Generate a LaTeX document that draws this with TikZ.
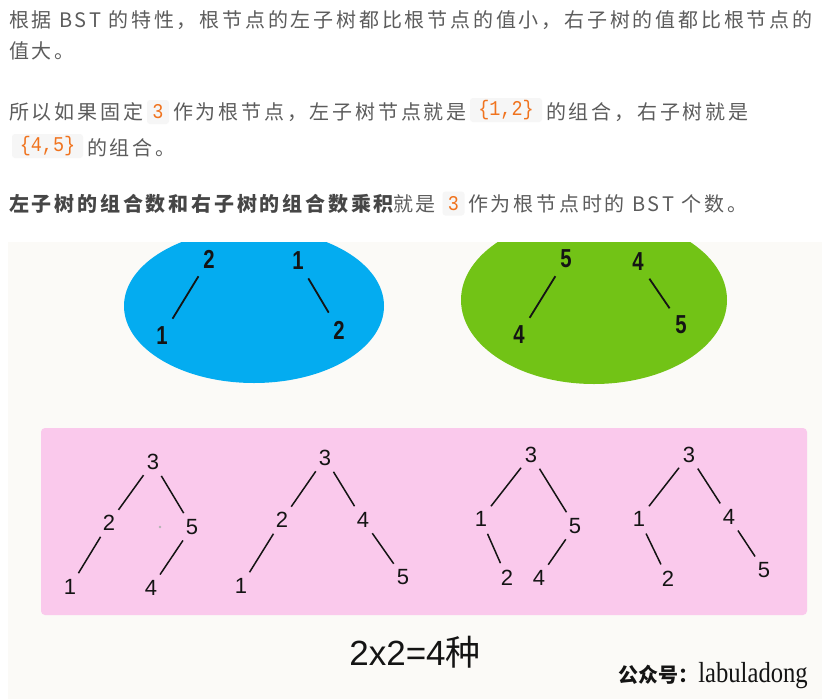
\documentclass[tikz,border=0pt]{standalone}
\usepackage{fontspec}
\usepackage{graphicx}
\newfontfamily\cjk[LetterSpace=14]{Noto Sans CJK SC}
\newfontfamily\cjkplain{Noto Sans CJK SC}
\newfontfamily\codefont{Liberation Mono}
\newfontfamily\digitfont{Liberation Sans}
\newfontfamily\serifwm{Liberation Serif}
\definecolor{bodygray}{RGB}{92,92,92}
\definecolor{boldgray}{RGB}{70,70,70}
\definecolor{codeorange}{RGB}{240,115,30}
\definecolor{codebg}{RGB}{246,246,246}
\definecolor{paper}{RGB}{251,250,247}
\definecolor{blueE}{RGB}{4,172,240}
\definecolor{greenE}{RGB}{114,195,22}
\definecolor{pinkR}{RGB}{250,201,236}
\definecolor{ink}{RGB}{20,20,20}
\newcommand{\narrowdigit}[1]{\scalebox{0.78}[1]{#1}}
\newcommand{\codetext}[1]{\scalebox{0.88}[1]{#1}}
\tikzset{
  txt/.style={anchor=base west, inner sep=0pt, text=bodygray,
    font=\cjk\fontsize{20}{20}\selectfont},
  boldtxt/.style={txt, text=boldgray, font=\cjk\bfseries\fontsize{20}{20}\selectfont},
  codebox/.style={fill=codebg, rounded corners=3pt, inner sep=0pt,
    minimum height=24pt, text=codeorange,
    font=\codefont\fontsize{21}{21}\selectfont},
  pd/.style={circle, inner sep=0pt, minimum size=32pt, text=ink,
    font=\digitfont\fontsize{22}{22}\selectfont},
  bd/.style={circle, inner sep=0pt, minimum size=40pt, text=ink,
    font=\digitfont\bfseries\fontsize{26}{26}\selectfont},
  pe/.style={draw=ink, line width=1.5pt},
  be/.style={draw=ink, line width=1.8pt},
}
\begin{document}
\begin{tikzpicture}[x=1pt, y=-1pt]
\useasboundingbox (0,0) rectangle (822,699);
\fill[white] (0,0) rectangle (822,699);

% ---------- text above ----------
\node[txt] (l1) at (9,27.5) {根据 BST 的特性，根节点的左子树都比根节点的值小，右子树的值都比根节点的};
\node[txt] (l2) at (9,58.5) {值大。};

\node[txt] (l3a) at (9,119) {所以如果固定};
\node[codebox, minimum width=22pt] (c3a) at (158,112) {\codetext{3}};
\node[txt] (l3b) at (173,119) {作为根节点，左子树节点就是};
\node[codebox, minimum width=72pt] (c12) at (506,110) {\codetext{\{1,2\}}};
\node[txt] (l3c) at (546,119) {的组合，右子树就是};

\node[codebox, minimum width=71pt] (c45) at (47.5,146) {\codetext{\{4,5\}}};
\node[txt] (l4) at (87,155) {的组合。};

\node[boldtxt] (l5a) at (9,211) {左子树的组合数和右子树的组合数乘积};
\node[txt] (l5b) at (393,211) {就是};
\node[codebox, minimum width=22pt] (c3b) at (453.5,203.5) {\codetext{3}};
\node[txt] (l5c) at (468,211) {作为根节点时的 BST 个数。};

% ---------- picture ----------
\fill[paper] (8,242) rectangle (822,699);
\begin{scope}
  \clip (8,242) rectangle (822,699);
  \fill[blueE] (254,306) ellipse [x radius=130, y radius=77];
  \fill[greenE] (594,300) ellipse [x radius=133, y radius=84];
\end{scope}

% blue trees
\node[bd] (b1r) at (209,259) {\narrowdigit{2}};
\node[bd] (b1c) at (162,336) {\narrowdigit{1}};
\node[bd] (b2r) at (298,261) {\narrowdigit{1}};
\node[bd] (b2c) at (339,330) {\narrowdigit{2}};
\draw[be] (b1r) -- (b1c);
\draw[be] (b2r) -- (b2c);

% green trees
\node[bd] (g1r) at (566,259) {\narrowdigit{5}};
\node[bd] (g1c) at (519,335) {\narrowdigit{4}};
\node[bd] (g2r) at (638,262) {\narrowdigit{4}};
\node[bd] (g2c) at (681,325) {\narrowdigit{5}};
\draw[be] (g1r) -- (g1c);
\draw[be] (g2r) -- (g2c);

% pink panel
\fill[pinkR, rounded corners=4pt] (41,428) rectangle (807,615);
\fill[gray!60] (160,527) circle [radius=1.3];

% tree A
\node[pd] (a3) at (153,462) {3};
\node[pd] (a2) at (109,523) {2};
\node[pd] (a5) at (192,527) {5};
\node[pd] (a1) at (70,587) {1};
\node[pd] (a4) at (151,588) {4};
\draw[pe] (a3) -- (a2);
\draw[pe] (a3) -- (a5);
\draw[pe] (a2) -- (a1);
\draw[pe] (a5) -- (a4);

% tree B
\node[pd] (bb3) at (325,458) {3};
\node[pd] (bb2) at (282,520) {2};
\node[pd] (bb4) at (363,520) {4};
\node[pd] (bb1) at (241,586) {1};
\node[pd] (bb5) at (403,577) {5};
\draw[pe] (bb3) -- (bb2);
\draw[pe] (bb3) -- (bb4);
\draw[pe] (bb2) -- (bb1);
\draw[pe] (bb4) -- (bb5);

% tree C
\node[pd] (c3) at (531,455) {3};
\node[pd] (c1) at (481,519) {1};
\node[pd] (c5) at (575,526) {5};
\node[pd] (c2) at (507,578) {2};
\node[pd] (c4) at (539,578) {4};
\draw[pe] (c3) -- (c1);
\draw[pe] (c3) -- (c5);
\draw[pe] (c1) -- (c2);
\draw[pe] (c5) -- (c4);

% tree D
\node[pd] (d3) at (689,455) {3};
\node[pd] (d1) at (639,519) {1};
\node[pd] (d4) at (729,517) {4};
\node[pd] (d2) at (668,579) {2};
\node[pd] (d5) at (764,570) {5};
\draw[pe] (d3) -- (d1);
\draw[pe] (d3) -- (d4);
\draw[pe] (d1) -- (d2);
\draw[pe] (d4) -- (d5);

% captions
\node[text=ink, inner sep=0pt, font=\digitfont\fontsize{35}{35}\selectfont] (res) at (415,652) {2x2=4{\cjkplain 种}};
\node[anchor=east, text=ink, inner sep=0pt] (wm) at (808,676)
  {{\cjkplain\bfseries\fontsize{20}{20}\selectfont 公众号：}{\serifwm\fontsize{29}{29}\selectfont\scalebox{0.85}[1]{labuladong}}};
\end{tikzpicture}
\end{document}
